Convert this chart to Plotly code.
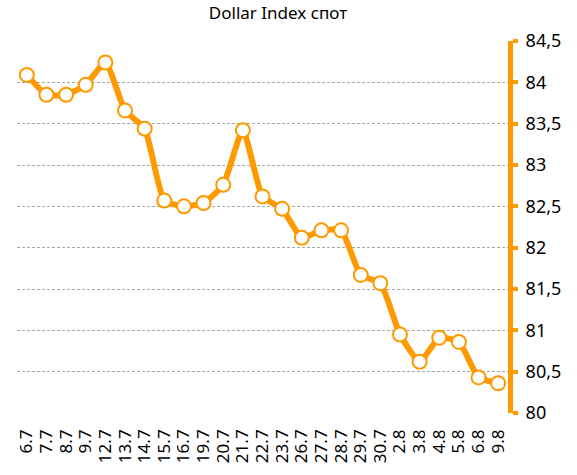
import plotly.graph_objects as go

# Daily closing values of the dollar index
dates = ["6.7", "7.7", "8.7", "9.7", "12.7", "13.7", "14.7", "15.7", "16.7", "19.7",
         "20.7", "21.7", "22.7", "23.7", "26.7", "27.7", "28.7", "29.7", "30.7",
         "2.8", "3.8", "4.8", "5.8", "6.8", "9.8"]
values = [84.09, 83.85, 83.85, 83.97, 84.24, 83.66, 83.44, 82.57, 82.50, 82.54,
          82.76, 83.42, 82.62, 82.47, 82.12, 82.21, 82.21, 81.67, 81.57,
          80.95, 80.62, 80.91, 80.86, 80.43, 80.36]
y_ticks = [80, 80.5, 81, 81.5, 82, 82.5, 83, 83.5, 84, 84.5]

orange = "#FF9900"

fig = go.Figure()
fig.add_trace(go.Scatter(
    x=dates, y=values, mode="lines+markers",
    line=dict(color=orange, width=6, shape="spline", smoothing=0.5),
    marker=dict(size=14, color="white", line=dict(color=orange, width=2)),
    hoverinfo="x+y",
))

fig.update_layout(
    width=577, height=475,
    margin=dict(l=17, r=69, t=41, b=59),
    paper_bgcolor="white", plot_bgcolor="white",
    separators=", ",
    showlegend=False,
    font=dict(family="Noto Sans", color="black"),
    title=dict(text="Dollar Index спот", x=278 / 577, xref="container", xanchor="center",
               y=1 - 13 / 475, yanchor="middle", font=dict(size=17, family="Noto Sans")),
    xaxis=dict(type="category", tickangle=-90, showgrid=False, showline=False,
               tickmode="array", tickvals=dates, ticktext=dates,
               ticks="", tickfont=dict(size=17), ticklabelstandoff=12,
               range=[-0.5, len(dates) - 0.5]),
    yaxis=dict(side="right", range=[80, 84.5], tickvals=y_ticks,
               ticktext=[str(v).replace(".", ",").replace(",0", "") for v in y_ticks],
               showgrid=True, gridcolor="#a6a6a6", griddash="3px,2px", gridwidth=1,
               showline=True, linecolor=orange, linewidth=5,
               ticks="outside", tickcolor=orange, ticklen=5, tickwidth=4,
               tickfont=dict(size=18), ticklabelstandoff=4, zeroline=False),
)

fig.write_html("out.html")
